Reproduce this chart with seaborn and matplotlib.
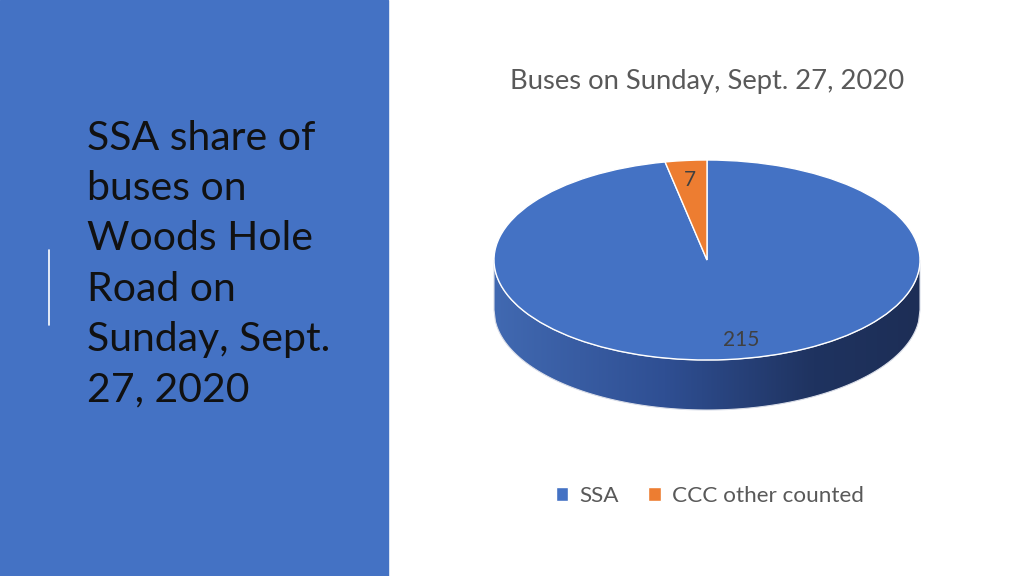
import numpy as np
import seaborn as sns
import matplotlib.pyplot as plt
from matplotlib.patches import Rectangle, Polygon
from matplotlib.colors import LinearSegmentedColormap

sns.set_theme(style='white')
plt.rcParams['font.family'] = ['Lato', 'DejaVu Sans']

categories = ['SSA', 'CCC other counted']
bus_counts = [215, 7]
chart_title = 'Buses on Sunday, Sept. 27, 2020'
side_title = ['SSA share of', 'buses on', 'Woods Hole', 'Road on', 'Sunday, Sept.', '27, 2020']

palette = ['#4472C4', '#ED7D31']
side_blue = '#4472C4'

W, H = 1024, 576
fig = plt.figure(figsize=(W / 100, H / 100), dpi=100)
fig.patch.set_facecolor('white')

# left coloured panel with the slide title
fig.patches.append(Rectangle((0, 0), 388 / W, 1, transform=fig.transFigure,
                             color=side_blue, zorder=0))
fig.lines.append(plt.Line2D([49 / W, 49 / W], [1 - 250 / H, 1 - 325 / H],
                            transform=fig.transFigure, color='white', lw=1.2))
for i, line in enumerate(side_title):
    fig.text(87 / W, 1 - (138 + i * 50.4) / H, line, ha='left', va='center',
             fontsize=29.5, color='#111111')

# pie axes: x unit = 213 px, y unit = 100 px (tilted look)
cx, cy, rx, ry = 707, 260, 213, 100
ax = fig.add_axes([(cx - 1.1 * rx) / W, (H - cy - 1.8 * ry) / H,
                   2.2 * rx / W, 3.0 * ry / H])

wedges, texts, autotexts = ax.pie(
    bus_counts, colors=palette, startangle=90, counterclock=False,
    autopct=lambda p: '{:.0f}'.format(p * sum(bus_counts) / 100),
    pctdistance=0.8,
    wedgeprops=dict(edgecolor='white', linewidth=1),
    textprops=dict(color='#404040', fontsize=15))
ax.set_aspect('auto')
ax.axis('off')
x0, y0 = autotexts[0].get_position()
autotexts[0].set_position((x0 + 0.08, y0))

# side of the disc with a shaded gradient
depth = 0.5
xs = np.linspace(-1, 1, 300)
top = -np.sqrt(1 - xs ** 2)
verts = np.vstack([np.column_stack([xs, top]),
                   np.column_stack([xs[::-1], top[::-1] - depth])])
rim = Polygon(verts, closed=True, facecolor='none', edgecolor='#d9dde8', lw=0.8, zorder=0.5)
ax.add_patch(rim)
shade = LinearSegmentedColormap.from_list(
    'rim', [(0, '#4169b1'), (0.4, '#2f4f93'), (0.75, '#1f3360'), (1, '#1d2e56')])
grad = np.linspace(0, 1, 256).reshape(1, -1)
im = ax.imshow(grad, cmap=shade, extent=(-1, 1, -1 - depth, 0), aspect='auto', zorder=0.4)
im.set_clip_path(rim)
ax.set_xlim(-1.1, 1.1)
ax.set_ylim(-1.8, 1.2)

fig.text(cx / W, 1 - 82 / H, chart_title, ha='center', va='center',
         fontsize=19.7, color='#595959')

fig.legend(wedges, categories, loc='center', bbox_to_anchor=(710 / W, 1 - 496 / H),
           ncol=2, frameon=False, fontsize=16.2, labelcolor='#595959',
           handlelength=0.55, handleheight=0.55, handletextpad=0.5, columnspacing=1.3)

fig.savefig('out.png', dpi=100, facecolor='white')
